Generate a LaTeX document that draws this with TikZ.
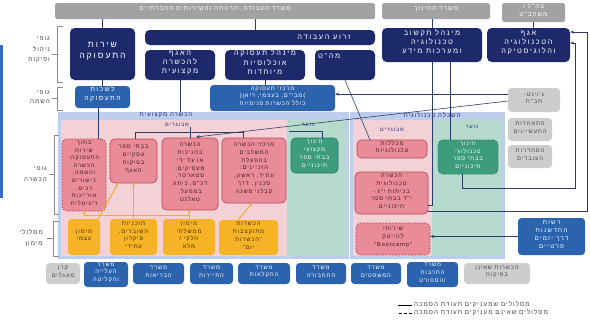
\documentclass[tikz,border=0pt]{standalone}
\usepackage{fontspec}
\usetikzlibrary{fit,arrows.meta}
\TeXXeTstate=1
\newfontfamily\hebw[Script=Hebrew,LetterSpace=22]{Liberation Sans}
\newfontfamily\hebm[Script=Hebrew,LetterSpace=16]{Liberation Sans}
\newcommand\hb[1]{\beginR#1\endR}

\definecolor{topgray}{HTML}{A2A2A2}
\definecolor{navyc}{HTML}{1C2A6C}
\definecolor{midblue}{HTML}{2B63AF}
\definecolor{regblue}{HTML}{BDCDEE}
\definecolor{pinkarea}{HTML}{F4D0D7}
\definecolor{pinkfill}{HTML}{EA8C97}
\definecolor{pinkedge}{HTML}{B5485A}
\definecolor{pinktext}{HTML}{3E1A22}
\definecolor{greenarea}{HTML}{B6DACB}
\definecolor{greenfill}{HTML}{3E9C7E}
\definecolor{greenedge}{HTML}{2A7A5F}
\definecolor{orangefill}{HTML}{F6B325}
\definecolor{orangetext}{HTML}{4A3000}
\definecolor{lgray}{HTML}{CDCDCD}
\definecolor{dgray}{HTML}{454545}
\definecolor{linkc}{HTML}{2E3B66}
\definecolor{yelc}{HTML}{EFAE1E}
\definecolor{stripe}{HTML}{3A6BC3}
\definecolor{brkc}{HTML}{8A8A8A}

\tikzset{
  box/.style={inner sep=0pt, align=center, rounded corners=3pt},
  widef/.style={font=\hebw\fontsize{6.3}{7.7}\selectfont},
  smallf/.style={font=\hebm\fontsize{4.9}{6.6}\selectfont},
  topbox/.style={box, font=\hebm\fontsize{5.4}{6.8}\selectfont, fill=topgray, text=white, rounded corners=1.5pt},
  navybox/.style={box, widef, fill=navyc, text=white, rounded corners=4pt},
  navytext/.style={inner sep=0pt, widef, text=white},
  bluebox/.style={box, smallf, fill=midblue, text=white},
  pinkbox/.style={box, smallf, fill=pinkfill, draw=pinkedge, line width=0.6pt, text=pinktext, rounded corners=4pt},
  greenbox/.style={box, smallf, fill=greenfill, draw=greenedge, line width=0.6pt, text=white, rounded corners=4pt},
  orangebox/.style={box, smallf, fill=orangefill, text=orangetext},
  graybox/.style={box, smallf, fill=lgray, text=dgray},
  dashbox/.style={dash pattern=on 1.6pt off 1.1pt},
  hdr/.style={inner sep=0.5pt, font=\hebm\fontsize{5.2}{6}\selectfont, text=navyc},
  lab/.style={inner sep=0.5pt, font=\hebm\fontsize{4.6}{5.5}\selectfont, text=navyc},
  sidelab/.style={inner sep=0pt, align=right, anchor=east, font=\hebm\fontsize{5.3}{9}\selectfont, text=dgray},
  brk/.style={draw=brkc, line width=0.5pt},
  link/.style={draw=linkc, line width=0.5pt},
  arr/.style={link, -{Stealth[length=3.2pt,width=2.6pt]}},
  yel/.style={draw=yelc, line width=0.8pt},
  yarr/.style={yel, -{Stealth[length=2.6pt,width=2.6pt]}},
  legtext/.style={inner sep=0pt, anchor=west, font=\hebm\fontsize{5.4}{6}\selectfont, text=dgray},
  legline/.style={draw=black, line width=0.8pt},
}

\begin{document}
\begin{tikzpicture}[x=0.03cm,y=-0.03cm]
\useasboundingbox (0,0) rectangle (590,324);
\fill[white] (0,0) rectangle (590,324);
\fill[stripe] (0,45) rectangle (3,198);

% background areas of the two training sectors
\fill[regblue] (58,112) rectangle (349,259);
\fill[pinkarea] (61,120) rectangle (287,256);
\fill[greenarea] (287,120) rectangle (346,256);
\fill[regblue] (350,112) rectangle (505,259);
\fill[pinkarea] (353,120) rectangle (432,256);
\fill[greenarea] (432,120) rectangle (502,256);

% ministries row
\node[topbox, fit={(55,3)(375,19)}] (t1) {\hb{משרד העבודה, הרווחה והשירותים החברתיים}};
\node[topbox, fit={(382,3)(490,19)}] (t2) {\hb{משרד החינוך}};
\node[topbox, fit={(502,3)(565,22)}] (t3) {\hb{צה"ל /}\\\hb{משהב"ט}};

% management and supervision bodies
\node[navybox, font=\hebw\fontsize{7.4}{9.6}\selectfont, fit={(70,28)(135,80)}] (n1) {\hb{שירות}\\\hb{התעסוקה}};
\node[navybox, fit={(145,30)(375,45)}] (n2) {};
\node[navytext] (n2t) at (324,37.5) {\hb{זרוע העבודה}};
\node[navybox, fit={(145,50)(215,80)}] (n3) {\hb{האגף}\\\hb{להכשרה}\\\hb{מקצועית}};
\node[navybox, fit={(225,50)(305,80)}] (n4) {\hb{מינהל תעסוקה}\\\hb{אוכלוסיות}\\\hb{מיוחדות}};
\node[navybox, fit={(315,50)(375,80)}] (n5) {};
\node[navytext, anchor=north west] (n5t) at (318,53) {\hb{מה"ט}};
\node[navybox, fit={(382,28)(482,62)}] (n6) {\hb{מינהל תקשוב}\\\hb{טכנולוגיה}\\\hb{ומערכות מידע}};
\node[navybox, align=right, text width=2.2cm, fit={(487,28)(570,62)}] (n7) {\hb{אגף}\\\hb{הטכנולוגיה}\\\hb{והלוגיסטיקה}};

% placement bodies
\node[bluebox, font=\hebw\fontsize{5.8}{7.6}\selectfont, fit={(75,86)(130,108)}] (b1) {\hb{לשכות}\\\hb{התעסוקה}};
\node[bluebox, align=right, text width=3.5cm, fit={(210,85)(335,111)}] (b2) {\hb{מרכזי תעסוקה}\\\hb{)מבי"ם, בעצמי, ריאן(}\\\hb{כולל הכשרות פנימיות}};

% other partners
\node[graybox, fit={(508,88)(560,112)}] (g1) {\hb{ג'וינט-}\\\hb{תב"ת}};
\node[graybox, fit={(508,118)(552,141)}] (g2) {\hb{התאחדות}\\\hb{התעשיינים}};
\node[graybox, fit={(508,145)(552,168)}] (g3) {\hb{הסתדרות}\\\hb{העובדים}};

% sector headers and sub-labels
\node[hdr] (hA) at (166,115.5) {\hb{הכשרה מקצועית}};
\node[hdr] (hB) at (432,115.5) {\hb{השכלה טכנולוגית}};
\node[lab] (mA) at (177,125) {\hb{מבוגרים}};
\node[lab] (nA) at (308,125) {\hb{נוער}};
\node[lab] (mB) at (392,130) {\hb{מבוגרים}};
\node[lab] (nB) at (472,127) {\hb{נוער}};

% training bodies
\node[pinkbox, dashbox, font=\hebm\fontsize{4.8}{6.5}\selectfont, fit={(62,139)(106,211)}] (p1) {\hb{בתוך}\\\hb{שירות}\\\hb{התעסוקה:}\\\hb{הכשרה}\\\hb{והשמה,}\\\hb{כישורים}\\\hb{רכים,}\\\hb{אוריינות}\\\hb{דיגיטלית}};
\node[pinkbox, fit={(110,139)(157,183)}] (p2) {\hb{בבתי ספר}\\\hb{עסקיים}\\\hb{בפיקוח}\\\hb{האגף}};
\node[pinkbox, fit={(162,138)(218,210)}] (p3) {\hb{הכשרה}\\\hb{בחניכות}\\\hb{או על ידי}\\\hb{מעסיקים:}\\\hb{סטארטר,}\\\hb{דכ"ס, כיתה}\\\hb{במפעל,}\\\hb{טאלנט}};
\node[pinkbox, fit={(222,138)(286,203)}] (p4) {\hb{מרכזי הכשרה}\\\hb{המשלבים}\\\hb{בהפעלת}\\\hb{הזכיינים:}\\\hb{עתיד, ראשון,}\\\hb{סכנין. דרך}\\\hb{קבלני משנה}};
\node[greenbox, fit={(291,138)(338,173)}] (gr1) {\hb{חינוך}\\\hb{מקצועי}\\\hb{בבתי ספר}\\\hb{תיכוניים}};
\node[pinkbox, fit={(357,140)(427,158)}] (tc1) {\hb{מכללות}\\\hb{טכנולוגיות}};
\node[pinkbox, fit={(355,172)(428,214)}] (tc2) {\hb{הכשרה}\\\hb{טכנולוגית}\\\hb{בכיתות י"ג -}\\\hb{י"ד בבתי ספר}\\\hb{תיכוניים}};
\node[greenbox, dashbox, fit={(438,140)(498,174)}] (gr2) {\hb{חינוך}\\\hb{טכנולוגי}\\\hb{בבתי ספר}\\\hb{תיכוניים}};
\node[pinkbox, dashbox, fit={(356,223)(430,255)}] (bc) {\hb{שירותי}\\\hb{להייטק}\\{"Bootcamp"}};
\node[bluebox, font=\hebw\fontsize{5.2}{6.9}\selectfont, align=right, text width=1.85cm, fit={(518,218)(585,255)}] (rs) {\hb{רשות}\\\hb{החדשנות}\\\hb{דרך יזמים}\\\hb{פרטיים}};

% funding tracks
\node[orangebox, fit={(68,219)(100,255)}] (o1) {\hb{מימון}\\\hb{עצמי}};
\node[orangebox, fit={(110,219)(157,255)}] (o2) {\hb{תוכניות}\\\hb{השוברים,}\\\hb{פיקדון}\\\hb{עתידי}};
\node[orangebox, fit={(163,219)(215,255)}] (o3) {\hb{מימון}\\\hb{ממשלתי}\\\hb{חלקי /}\\\hb{מלא}};
\node[orangebox, fit={(219,220)(278,255)}] (o4) {\hb{הכשרות}\\\hb{מתוקצבות}\\\hb{"הכשרות}\\\hb{יום"}};

% other ministries
\node[graybox, fit={(46,263)(80,284)}] (k) {\hb{קרן}\\\hb{מעגלים}};
\node[bluebox, fit={(84,262)(128,287)}] (m1) {\hb{משרד}\\\hb{העלייה}\\\hb{והקליטה}};
\node[bluebox, fit={(133,263)(184,284)}] (m2) {\hb{משרד}\\\hb{הבריאות}};
\node[bluebox, fit={(190,263)(233,284)}] (m3) {\hb{משרד}\\\hb{התיירות}};
\node[bluebox, fit={(238,263)(290,284)}] (m4) {\hb{משרד}\\\hb{החקלאות}};
\node[bluebox, fit={(296,263)(346,284)}] (m5) {\hb{משרד}\\\hb{התחבורה}};
\node[bluebox, fit={(351,263)(401,284)}] (m6) {\hb{משרד}\\\hb{המשפטים}};
\node[bluebox, fit={(407,262)(458,287)}] (m7) {\hb{משרד}\\\hb{התרבות}\\\hb{והספורט}};
\node[graybox, fit={(464,263)(530,284)}] (h) {\hb{הכשרות שאינן}\\\hb{בפיקוח}};

% side labels with brackets
\node[sidelab] (l1) at (50,50) {\hb{גופי}\\\hb{ניהול}\\\hb{ופיקוח}};
\node[sidelab, font=\hebm\fontsize{5.3}{7.4}\selectfont] (l2) at (50,97) {\hb{גופי}\\\hb{השמה}};
\node[sidelab] (l3) at (47,174) {\hb{גופי}\\\hb{הכשרה}};
\node[sidelab] (l4) at (43,238) {\hb{מסלולי}\\\hb{מימון}};
\draw[brk] (63,26) -- (57,26) -- (57,82) -- (63,82) (57,54) -- (52,54);
\draw[brk] (63,87) -- (57,87) -- (57,110) -- (63,110) (57,98) -- (52,98);
\draw[brk] (59,135) -- (54,135) -- (54,214) -- (59,214) (54,174) -- (49,174);
\draw[brk] (59,221) -- (53,221) -- (53,256) -- (59,256) (53,238) -- (47,238);

% helper coordinates for connector routes
\coordinate (xw) at (255,0);
\coordinate (xb) at (98,0);
\coordinate (xt) at (450,0);
\coordinate (bjL) at (135,132);
\coordinate (bjR) at (243,132);
\coordinate (yA) at (289,131);
\coordinate (yB) at (322,131);
\coordinate (yC) at (322,138);
\coordinate (tcin) at (370,140);
\coordinate (tcr) at (428,205);
\coordinate (c1) at (462,188);
\coordinate (c2) at (575,188);
\coordinate (c3) at (575,43);
\coordinate (d1) at (587,211);
\coordinate (d2) at (587,32);
\coordinate (e1) at (508,94);
\coordinate (e2) at (508,101);
\coordinate (e3) at (196,137);
\coordinate (f1) at (118,183.5);
\coordinate (f2) at (98,219);
\coordinate (f3) at (189,215);
\coordinate (f4) at (238,220);
\coordinate (f5) at (252,203.5);

% organisational links
\draw[link] (n1.north) -- (n1.north |- t1.south);
\draw[link] (xw |- t1.south) -- (xw |- n2.north);
\draw[link] (n6.north) -- (n6.north |- t2.south);
\draw[link] (t3.south) -- (t3.south |- n7.north);
\draw[link] (n1.south) -- (n1.south |- b1.north);
\draw[link] (xb |- b1.south) -- (xb |- p1.north);
\draw[link] (n4.south) -- (n4.south |- b2.north);
\draw[link] (n3.south) -- (n3.south |- hA.north);
\draw[link] (p2.north -| bjL) -- (bjL) -- (bjR) -- (p4.north -| bjR);
\draw[link] (p3.north) -- (p3.north |- mA.south);
\draw[link] (yA) -- (yB) -- (yC);
\draw[link] (n5.south) -- (tcin);
\draw[link] (n6.south) |- (tcr);
\draw[link] (xt |- n6.south) -- (xt |- gr2.north);
\draw[arr] (gr2.south -| c1) -- (c1) -- (c2) -- (c3) -- (n7.east |- c3);
\draw[arr] (tc2.east |- d1) -- (d1) -- (d2) -- (n7.east |- d2);
\draw[arr] (e1) -- (b2.east |- e1);
\draw[arr] (e2) -- (e3);
\draw[arr] (rs.west) -- (bc.east |- rs.west);

% funding flows
\draw[yarr] (f2) -- (f1);
\draw[yarr] (o2.north) -- (p2.south);
\draw[yarr] (o3.north -| f3) -- (p3.south -| f3);
\draw[yarr] (f3) -| (p1.south);
\draw[yarr] (f4) -- (f5);

% legend
\node[legtext] (lg1) at (414,305) {\hb{מסלולים שמעניקים תעודת הסמכה}};
\node[legtext] (lg2) at (414,313) {\hb{מסלולים שאינם מעניקים תעודת הסמכה}};
\draw[legline] ([xshift=-2pt]lg1.west) -- ++(-14,0);
\draw[legline, dash pattern=on 2.5pt off 1.8pt] ([xshift=-2pt]lg2.west) -- ++(-14,0);
\end{tikzpicture}
\end{document}
